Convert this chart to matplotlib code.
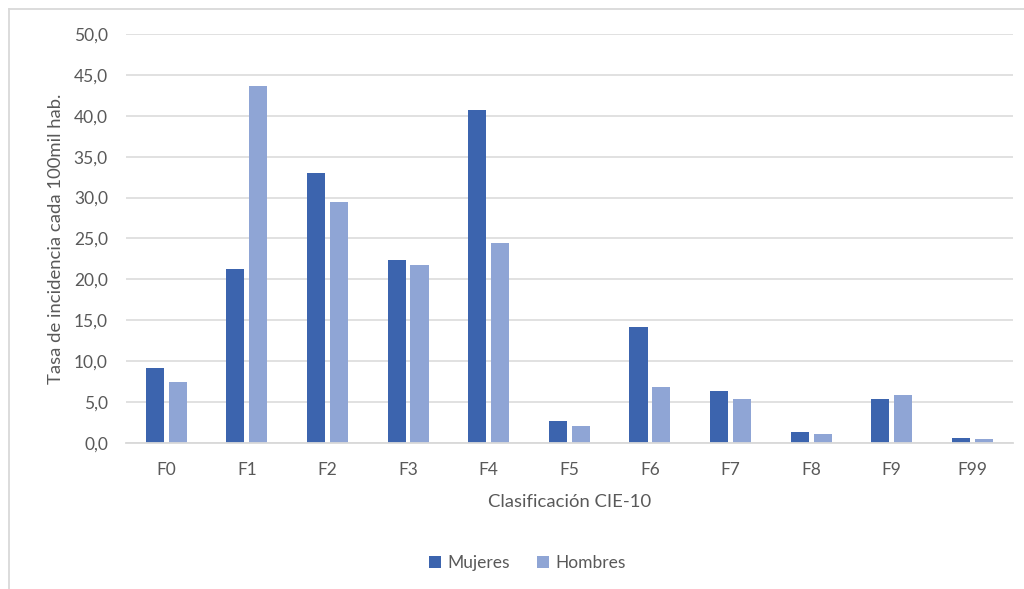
import numpy as np
import matplotlib
matplotlib.use("Agg")
import matplotlib.pyplot as plt
from matplotlib.lines import Line2D

# Tasas por categoría CIE-10
categorias = ["F0", "F1", "F2", "F3", "F4", "F5", "F6", "F7", "F8", "F9", "F99"]
mujeres = [9.2, 21.3, 33.0, 22.4, 40.7, 2.7, 14.2, 6.3, 1.3, 5.4, 0.6]
hombres = [7.5, 43.7, 29.5, 21.8, 24.4, 2.1, 6.9, 5.4, 1.1, 5.9, 0.5]
y_ticks = np.arange(0, 50.1, 5)

COLOR_MUJ = "#3C64AE"
COLOR_HOM = "#8FA5D5"
GRIS_TEXTO = "#595959"
GRIS_LINEA = "#D9D9D9"

plt.rcParams["font.family"] = ["Lato", "DejaVu Sans"]

fig = plt.figure(figsize=(10.24, 5.89), dpi=100)
ax = fig.add_axes([0.123, 0.2479, 0.866, 0.6944])

x = np.arange(len(categorias))
ancho = 0.225
desp = 0.142
ax.bar(x - desp, mujeres, ancho, color=COLOR_MUJ, label="Mujeres", zorder=3)
ax.bar(x + desp, hombres, ancho, color=COLOR_HOM, label="Hombres", zorder=3)

ax.set_xlim(-0.5, len(categorias) - 0.5)
ax.set_ylim(0, 50)
ax.set_yticks(y_ticks)
ax.set_yticklabels([f"{v:.1f}".replace(".", ",") for v in y_ticks])
ax.set_xticks(x)
ax.set_xticklabels(categorias)

ax.yaxis.grid(True, color=GRIS_LINEA, linewidth=1.1, zorder=0)
ax.set_axisbelow(True)
for lado in ["top", "right", "left"]:
    ax.spines[lado].set_visible(False)
ax.spines["bottom"].set_color(GRIS_LINEA)
ax.spines["bottom"].set_linewidth(1.3)
ax.spines["bottom"].set_zorder(4)

ax.tick_params(axis="y", length=0, pad=13, labelsize=12.5, labelcolor=GRIS_TEXTO)
ax.tick_params(axis="x", length=0, pad=14, labelsize=12.5, labelcolor=GRIS_TEXTO)

ax.set_ylabel("Tasa de incidencia cada 100mil hab.", fontsize=13.3, color=GRIS_TEXTO, labelpad=7)
ax.set_xlabel("Clasificación CIE-10", fontsize=13.3, color=GRIS_TEXTO, labelpad=11)

fig.legend(loc="center", bbox_to_anchor=(0.515, 0.044), ncol=2, frameon=False,
           fontsize=12.5, labelcolor=GRIS_TEXTO, handlelength=0.7, handleheight=0.7,
           handletextpad=0.35, columnspacing=1.6)

# Marco del área del gráfico
fig.add_artist(Line2D([9 / 1024, 9 / 1024], [0, 1 - 9 / 589], transform=fig.transFigure,
                      color=GRIS_LINEA, linewidth=1.3))
fig.add_artist(Line2D([9 / 1024, 1], [1 - 9 / 589, 1 - 9 / 589], transform=fig.transFigure,
                      color=GRIS_LINEA, linewidth=1.3))

fig.savefig("out.png", dpi=100, facecolor="white")
